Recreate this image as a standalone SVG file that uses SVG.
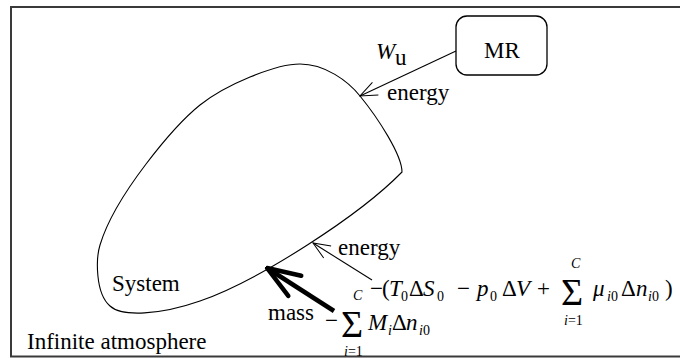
<svg xmlns="http://www.w3.org/2000/svg" width="680" height="358" viewBox="0 0 680 358">
<style>
text{font-family:"Liberation Serif","DejaVu Serif",serif;fill:#000;font-size:23px}
.i{font-style:italic}
.sub{font-size:14px}
.big{font-size:38px}
.line{fill:none;stroke:#000;stroke-width:1.1}
</style>
<defs>
<marker id="open" viewBox="-20 -10 21 20" refX="0" refY="0" markerWidth="21" markerHeight="20" markerUnits="userSpaceOnUse" orient="auto">
<path d="M-17,-7 L0,0 L-17,7" fill="none" stroke="#000" stroke-width="1"/>
</marker>
<marker id="thick" viewBox="-40 -18 42 36" refX="0" refY="0" markerWidth="42" markerHeight="36" markerUnits="userSpaceOnUse" orient="auto">
<path d="M-33,-12 L0,0 L-33,12" fill="none" stroke="#000" stroke-width="4.5" stroke-linejoin="round" stroke-linecap="round"/>
</marker>
</defs>
<rect width="680" height="358" fill="#fff"/>
<g id="atmosphere">
<rect x="11" y="7" width="700" height="349.5" fill="none" stroke="#3a3a3a" stroke-width="2"/>
<text x="27" y="349">Infinite atmosphere</text>
</g>
<g id="system">
<path class="line" d="M402,172 C402,155 378,118 360,96 C348,81 325,64 300,64 C275,64 225,85 200,105 C175,125 115,195 100,245 C96,258 95,293 110,306 C122,317 160,315 200,301 C260,280 360,215 402,172 Z"/>
<text x="112" y="291">System</text>
</g>
<g id="mr">
<rect x="456" y="16" width="91" height="59" rx="11" fill="#fff" stroke="#000" stroke-width="1.3"/>
<text x="502" y="58" text-anchor="middle">MR</text>
</g>
<g id="connectors">
<path class="line" d="M456,51 L360,96" marker-end="url(#open)"/>
<path class="line" d="M372,280 L313,243" marker-end="url(#open)"/>
<path d="M334,311 L267,268" fill="none" stroke="#000" stroke-width="4.5" marker-end="url(#thick)"/>
</g>
<g id="labels">
<text class="i" x="376" y="59">W</text><text x="395" y="65">u</text>
<text x="387" y="100">energy</text>
<text x="338" y="255">energy</text>
<text x="268" y="320">mass</text>
<g id="formula1">
<text x="370" y="296">−</text>
<text x="382" y="296">(</text>
<text class="i" x="389" y="296">T</text><text class="sub" x="401" y="301">0</text>
<text x="409" y="296">Δ</text>
<text class="i" x="423" y="296">S</text><text class="sub" x="437" y="301">0</text>
<text x="457" y="296">−</text>
<text class="i" x="477" y="296">p</text><text class="sub" x="490" y="301">0</text>
<text x="502" y="296">Δ</text>
<text class="i" x="516" y="296">V</text>
<text x="537" y="296">+</text>
<text class="big" x="561" y="305">Σ</text>
<text class="i sub" x="571" y="268">C</text>
<text class="sub" x="564" y="325"><tspan class="i">i</tspan>=1</text>
<text class="i" x="593" y="296">μ</text><text class="sub" x="607" y="301"><tspan class="i">i</tspan>0</text>
<text x="621" y="296">Δ</text>
<text class="i" x="636" y="296">n</text><text class="sub" x="648" y="301"><tspan class="i">i</tspan>0</text>
<text x="665" y="296">)</text>
</g>
<g id="formula2">
<text x="325" y="328">−</text>
<text class="big" x="341" y="337">Σ</text>
<text class="i sub" x="353" y="300">C</text>
<text class="sub" x="344" y="356"><tspan class="i">i</tspan>=1</text>
<text class="i" x="368" y="330">M</text><text class="sub i" x="388" y="335">i</text>
<text x="392" y="330">Δ</text>
<text class="i" x="406" y="330">n</text><text class="sub" x="419" y="335"><tspan class="i">i</tspan>0</text>
</g>
</g>
</svg>
